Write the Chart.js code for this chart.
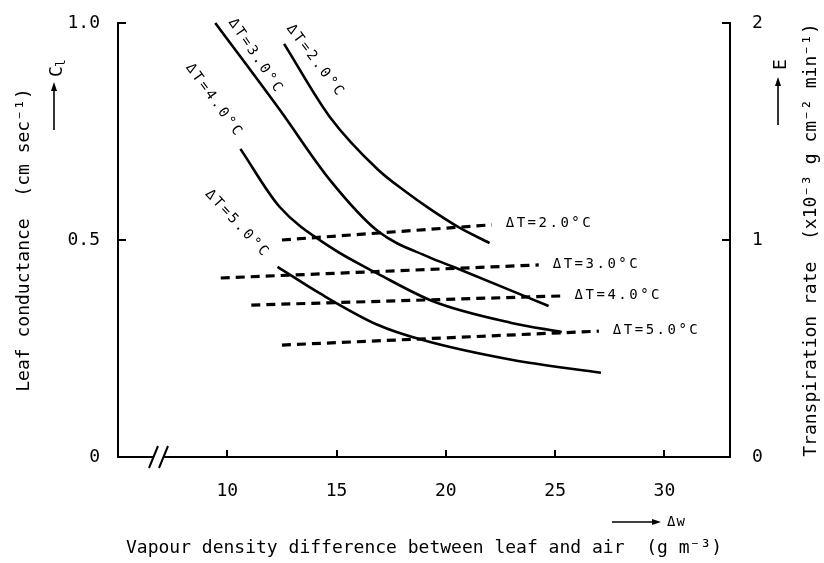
<!DOCTYPE html>
<html>
<head>
<meta charset="utf-8">
<script src="https://cdn.jsdelivr.net/npm/chart.js@4.4.1/dist/chart.umd.min.js"></script>
<style>
  html, body { margin: 0; padding: 0; background: #fff; }
</style>
</head>
<body>
<canvas id="chart" width="824" height="563"></canvas>
<script>
// tick labels
var xTicks = [10, 15, 20, 25, 30];
var yTicks = [0, 0.5, 1.0];
var y2Ticks = [0, 1, 2];

// leaf conductance (cm sec-1) against vapour density difference (g m-3)
var curveNames = ['ΔT=2.0°C', 'ΔT=3.0°C', 'ΔT=4.0°C', 'ΔT=5.0°C'];
var dwC2 = [12.6, 14.7, 16.9, 18.2, 19.2, 20.6, 22.0];
var glC2 = [0.952, 0.783, 0.662, 0.610, 0.574, 0.529, 0.493];
var dwC3 = [9.45, 12.4, 14.7, 16.9, 19.2, 20.5, 24.7];
var glC3 = [1.0, 0.80, 0.638, 0.52, 0.461, 0.435, 0.348];
var dwC4 = [10.6, 12.4, 14.7, 16.9, 19.5, 23.0, 25.3];
var glC4 = [0.710, 0.576, 0.484, 0.422, 0.357, 0.309, 0.288];
var dwC5 = [12.3, 14.2, 16.9, 18.9, 23.0, 27.1];
var glC5 = [0.438, 0.378, 0.304, 0.270, 0.224, 0.194];

// transpiration rate (x10-3 g cm-2 min-1), dashed lines
var dwE2 = [12.5, 22.1];
var eE2 = [1.0, 1.07];
var dwE3 = [9.7, 24.25];
var eE3 = [0.825, 0.885];
var dwE4 = [11.1, 25.25];
var eE4 = [0.70, 0.742];
var dwE5 = [12.5, 27.0];
var eE5 = [0.516, 0.58];

function pts(xs, ys) {
  return xs.map(function (x, i) { return { x: x, y: ys[i] }; });
}

var FONT = '"DejaVu Sans Mono", monospace';

function solid(xs, ys) {
  return {
    data: pts(xs, ys),
    showLine: true,
    borderColor: '#000',
    borderWidth: 2.6,
    pointRadius: 0,
    tension: 0.4,
    cubicInterpolationMode: 'monotone',
    clip: false,
    yAxisID: 'y'
  };
}
function dashed(xs, ys) {
  return {
    data: pts(xs, ys),
    showLine: true,
    borderColor: '#000',
    borderWidth: 3.2,
    borderDash: [9, 6],
    pointRadius: 0,
    clip: false,
    yAxisID: 'y2'
  };
}

// rotated labels on the solid curves, placed in data units
var curveLabelPos = [
  { x: 12.83, y: 0.993, a: 53 },
  { x: 10.18, y: 1.007, a: 56 },
  { x: 8.22, y: 0.903, a: 54 },
  { x: 9.09, y: 0.611, a: 47 }
];

// drop the label overflow padding so the plot box sits where the original does
function noPad(s) {
  s.paddingTop = 0; s.paddingBottom = 0; s.paddingLeft = 0; s.paddingRight = 0;
}

var extras = {
  id: 'extras',
  afterDraw: function (chart) {
    var ctx = chart.ctx;
    var xs = chart.scales.x, ys = chart.scales.y, ys2 = chart.scales.y2;
    ctx.save();
    ctx.fillStyle = '#000';
    ctx.strokeStyle = '#000';

    // axis break
    ctx.fillStyle = '#fff';
    ctx.fillRect(153, 454, 11, 6);
    ctx.fillStyle = '#000';
    ctx.lineWidth = 2;
    ctx.beginPath();
    ctx.moveTo(149, 468); ctx.lineTo(158, 446);
    ctx.moveTo(159, 468); ctx.lineTo(168, 446);
    ctx.stroke();

    // curve labels (rotated)
    ctx.font = '14px ' + FONT;
    ctx.letterSpacing = '2.5px';
    ctx.textBaseline = 'middle';
    ctx.textAlign = 'left';
    curveLabelPos.forEach(function (p, i) {
      ctx.save();
      ctx.translate(xs.getPixelForValue(p.x), ys.getPixelForValue(p.y));
      ctx.rotate(p.a * Math.PI / 180);
      ctx.fillText(curveNames[i], 0, 0);
      ctx.restore();
    });

    // labels at the end of the dashed lines
    var ends = [[dwE2, eE2], [dwE3, eE3], [dwE4, eE4], [dwE5, eE5]];
    ends.forEach(function (e, i) {
      var n = e[0].length - 1;
      var px = xs.getPixelForValue(e[0][n]) + 14;
      var py = ys2.getPixelForValue(e[1][n]) - 1;
      ctx.fillText(curveNames[i], px, py);
    });
    ctx.letterSpacing = '0px';

    // arrows
    function arrowUp(x, y0, y1) {
      ctx.lineWidth = 1.6;
      ctx.beginPath(); ctx.moveTo(x, y0); ctx.lineTo(x, y1 + 6); ctx.stroke();
      ctx.beginPath(); ctx.moveTo(x, y1); ctx.lineTo(x - 3, y1 + 9); ctx.lineTo(x + 3, y1 + 9); ctx.closePath(); ctx.fill();
    }
    arrowUp(54, 130, 82);
    arrowUp(778, 125, 77);
    ctx.lineWidth = 1.6;
    ctx.beginPath(); ctx.moveTo(612, 522); ctx.lineTo(654, 522); ctx.stroke();
    ctx.beginPath(); ctx.moveTo(661, 522); ctx.lineTo(652, 519); ctx.lineTo(652, 525); ctx.closePath(); ctx.fill();

    // C_l and E
    ctx.textBaseline = 'alphabetic';
    ctx.save();
    ctx.translate(62, 77);
    ctx.rotate(-Math.PI / 2);
    ctx.font = '18px ' + FONT;
    ctx.fillText('C', 0, 0);
    ctx.font = '13px ' + FONT;
    ctx.fillText('l', 10, 3);
    ctx.restore();
    ctx.save();
    ctx.translate(786, 70);
    ctx.rotate(-Math.PI / 2);
    ctx.font = '18px ' + FONT;
    ctx.fillText('E', 0, 0);
    ctx.restore();

    // Δw
    ctx.font = '14px ' + FONT;
    ctx.letterSpacing = '1px';
    ctx.textBaseline = 'middle';
    ctx.fillText('Δw', 667, 522);
    ctx.letterSpacing = '0px';

    // right axis title (reads bottom to top)
    ctx.save();
    ctx.translate(811, (chart.chartArea.top + chart.chartArea.bottom) / 2);
    ctx.rotate(-Math.PI / 2);
    ctx.font = '18px ' + FONT;
    ctx.textAlign = 'center';
    ctx.textBaseline = 'middle';
    ctx.fillText('Transpiration rate  (x10⁻³ g cm⁻² min⁻¹)', 0, 0);
    ctx.restore();

    ctx.restore();
  }
};

var tickFont = { family: FONT, size: 18 };

new Chart(document.getElementById('chart'), {
  type: 'scatter',
  data: {
    datasets: [
      solid(dwC2, glC2), solid(dwC3, glC3), solid(dwC4, glC4), solid(dwC5, glC5),
      dashed(dwE2, eE2), dashed(dwE3, eE3), dashed(dwE4, eE4), dashed(dwE5, eE5)
    ]
  },
  options: {
    responsive: false,
    animation: false,
    devicePixelRatio: 1,
    layout: { padding: { top: 23, left: 0, right: 0, bottom: 0 } },
    plugins: { legend: { display: false }, tooltip: { enabled: false } },
    scales: {
      x: {
        type: 'linear',
        min: 5,
        max: 33,
        afterBuildTicks: function (s) { s.ticks = xTicks.map(function (v) { return { value: v }; }); },
        afterFit: function (s) { s.height = 106; noPad(s); },
        border: { color: '#000', width: 2 },
        grid: { drawOnChartArea: false, color: '#000', lineWidth: 2, tickLength: -7 },
        ticks: { color: '#000', font: tickFont, padding: 31, maxRotation: 0 },
        title: {
          display: true,
          text: 'Vapour density difference between leaf and air  (g m⁻³)',
          color: '#000',
          font: tickFont,
          padding: { top: 0, bottom: 4 }
        }
      },
      y: {
        position: 'left',
        min: 0,
        max: 1,
        afterBuildTicks: function (s) { s.ticks = yTicks.map(function (v) { return { value: v }; }); },
        afterFit: function (s) { s.width = 118; noPad(s); },
        border: { color: '#000', width: 2 },
        grid: { drawOnChartArea: false, color: '#000', lineWidth: 2, tickLength: -8 },
        ticks: {
          color: '#000', font: tickFont, padding: 26,
          callback: function (v) { return v === 0 ? '0' : v.toFixed(1); }
        },
        title: {
          display: true,
          text: 'Leaf conductance  (cm sec⁻¹)',
          color: '#000',
          font: tickFont,
          padding: { top: 14, bottom: 0 }
        }
      },
      y2: {
        position: 'right',
        min: 0,
        max: 2,
        afterBuildTicks: function (s) { s.ticks = y2Ticks.map(function (v) { return { value: v }; }); },
        afterFit: function (s) { s.width = 94; noPad(s); },
        border: { color: '#000', width: 2 },
        grid: { drawOnChartArea: false, color: '#000', lineWidth: 2, tickLength: -8 },
        ticks: {
          color: '#000', font: tickFont, padding: 30,
          callback: function (v) { return String(v); }
        }
      }
    }
  },
  plugins: [extras]
});
</script>
</body>
</html>
